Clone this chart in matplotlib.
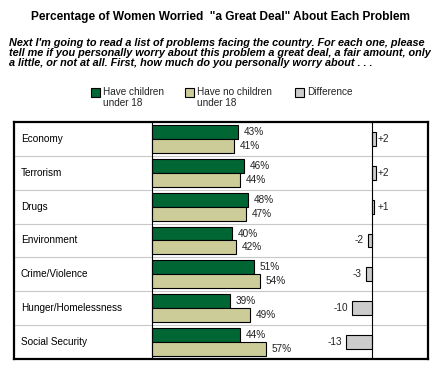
import matplotlib
matplotlib.use("Agg")
import matplotlib.pyplot as plt
from matplotlib.patches import Rectangle

plt.rcParams['font.family'] = ['Liberation Sans', 'DejaVu Sans']

categories = ["Economy", "Terrorism", "Drugs", "Environment", "Crime/Violence",
              "Hunger/Homelessness", "Social Security"]
with_children = [43, 46, 48, 40, 51, 39, 44]
no_children = [41, 44, 47, 42, 54, 49, 57]
difference = [2, 2, 1, -2, -3, -10, -13]

title = 'Percentage of Women Worried  "a Great Deal" About Each Problem'
subtitle_lines = [
    "Next I'm going to read a list of problems facing the country. For each one, please",
    "tell me if you personally worry about this problem a great deal, a fair amount, only",
    "a little, or not at all. First, how much do you personally worry about . . .",
]
legend_labels = ["Have children\nunder 18", "Have no children\nunder 18", "Difference"]

GREEN = "#006633"
TAN = "#CCCC99"
GRAY = "#CCCCCC"

W, H = 440, 365
fig = plt.figure(figsize=(W / 100, H / 100), dpi=100)

def fx(px):
    return px / W

def fy(py):
    return 1 - py / H

# frame region in pixels
L, R, T, B = 14, 428, 122, 359
rect = [fx(L), fy(B), fx(R) - fx(L), fy(T) - fy(B)]

ax_frame = fig.add_axes(rect)
ax_bar = fig.add_axes(rect, sharey=ax_frame)
ax_diff = fig.add_axes(rect, sharey=ax_frame)

n = len(categories)
ys = list(range(n))
ax_frame.set_ylim(n - 0.5, -0.5)
ax_frame.set_xlim(0, 1)
for s in ax_frame.spines.values():
    s.set_linewidth(1.6)
    s.set_color("black")
ax_frame.set_xticks([])
ax_frame.set_yticks([])
for i in range(n - 1):
    ax_frame.axhline(i + 0.5, color="#c8c8c8", lw=0.8, zorder=0)
for i, c in enumerate(categories):
    ax_frame.text(6.7 / (R - L), i, c, ha="left", va="center", fontsize=7.2)

# bars axes: 2 px per percent, zero at x=152 px
zero_bar = 152
ax_bar.set_xlim(-(zero_bar - L) / 2, (R - zero_bar) / 2)
ax_bar.axis("off")
ax_bar.patch.set_alpha(0)
bh = 0.413
ax_bar.barh([y - bh / 2 for y in ys], with_children, height=bh, color=GREEN,
            edgecolor="black", linewidth=0.8)
ax_bar.barh([y + bh / 2 for y in ys], no_children, height=bh, color=TAN,
            edgecolor="black", linewidth=0.8)
ax_bar.axvline(0, color="black", lw=0.8)
for y, v in zip(ys, with_children):
    ax_bar.text(v + 3, y - bh / 2, f"{v}%", ha="left", va="center", fontsize=7.2, color="#222222")
for y, v in zip(ys, no_children):
    ax_bar.text(v + 3, y + bh / 2, f"{v}%", ha="left", va="center", fontsize=7.2, color="#222222")

# difference axes: 2 px per point, zero at x=372 px
zero_diff = 372
ax_diff.set_xlim(-(zero_diff - L) / 2, (R - zero_diff) / 2)
ax_diff.axis("off")
ax_diff.patch.set_alpha(0)
ax_diff.barh(ys, difference, height=bh, color=GRAY, edgecolor="black", linewidth=0.8)
ax_diff.axvline(0, color="black", lw=0.8)
for y, v in zip(ys, difference):
    if v > 0:
        ax_diff.text(3, y, f"+{v}", ha="left", va="center", fontsize=7.2, color="#222222")
    else:
        ax_diff.text(v - 2, y, f"{v}", ha="right", va="center", fontsize=7.2, color="#222222")

# title & subtitle
fig.text(fx(220), fy(20), title, ha="center", va="baseline", fontsize=8.6, fontweight="bold")
for k, line in enumerate(subtitle_lines):
    fig.text(fx(9), fy(46 + 10 * k), line, ha="left", va="baseline", fontsize=7.85,
             fontweight="bold", fontstyle="italic")

# legend
legend_colors = [GREEN, TAN, GRAY]
legend_x = [91, 185, 295]
for x, c, lab in zip(legend_x, legend_colors, legend_labels):
    fig.add_artist(Rectangle((fx(x), fy(97)), fx(9), fy(88) - fy(97),
                             facecolor=c, edgecolor="black", linewidth=0.8,
                             transform=fig.transFigure))
    fig.text(fx(x + 12), fy(87), lab, ha="left", va="top", fontsize=7.2,
             linespacing=1.1, color="#222222")

fig.savefig("out.png", dpi=100)
